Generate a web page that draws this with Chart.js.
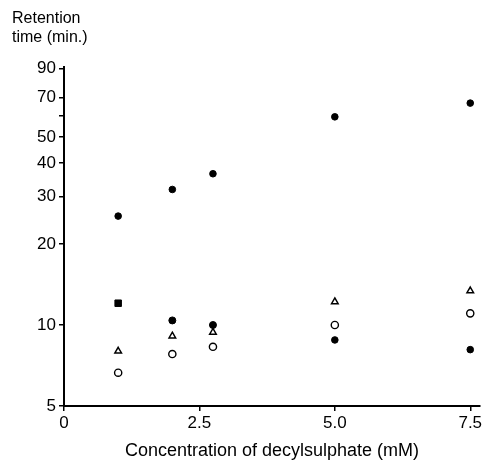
<!DOCTYPE html>
<html>
<head>
<meta charset="utf-8">
<script src="https://cdn.jsdelivr.net/npm/chart.js@4.4.1/dist/chart.umd.min.js"></script>
<style>
  html, body { margin: 0; padding: 0; background: #fff; }
</style>
</head>
<body>
<canvas id="retChart" width="493" height="471"></canvas>
<script>
// concentrations (mM) and retention times (min.)
const concentrations = [1, 2, 2.75, 5, 7.5];
const filledCircles = [25.4, 31.9, 36.5, 59.4, 66.8];
const filledSquares = [12.05, 10.4, 10.0, 8.8, 8.1];
const openTriangles = [8.0, 9.1, 9.4, 12.2, 13.4];
const openCircles = [6.65, 7.8, 8.3, 10.0, 11.05];

const xTicks = [0, 2.5, 5, 7.5];
const xTickLabels = ['0', '2.5', '5.0', '7.5'];
const yTicks = [5, 10, 20, 30, 40, 50, 60, 70, 90];
const yTickLabels = ['5', '10', '20', '30', '40', '50', '', '70', '90'];

const FONT = 'Liberation Sans';

function toPoints(values) {
    return concentrations.map(function (c, i) { return { x: c, y: values[i] }; });
}

// y axis title sits horizontally above the axis
const yTitlePlugin = {
    id: 'yTitle',
    afterDraw: function (chart) {
        const c = chart.ctx;
        c.save();
        c.fillStyle = '#000';
        c.font = '16px "' + FONT + '"';
        c.textBaseline = 'alphabetic';
        c.fillText('Retention', 12, 23);
        c.fillText('time (min.)', 12, 42);
        c.restore();
    }
};

const ctx = document.getElementById('retChart');
const chart = new Chart(ctx, {
    type: 'scatter',
    data: {
        datasets: [{
            label: 'filled circles',
            data: toPoints(filledCircles),
            pointStyle: 'circle',
            pointRadius: 3.3,
            backgroundColor: '#000',
            borderColor: '#000',
            borderWidth: 1
        }, {
            label: 'filled squares',
            data: toPoints(filledSquares),
            pointStyle: ['rect', 'circle', 'circle', 'circle', 'circle'],
            pointRadius: [4.6, 3.5, 3.5, 3.3, 3.3],
            backgroundColor: '#000',
            borderColor: '#000',
            borderWidth: 1
        }, {
            label: 'open triangles',
            data: toPoints(openTriangles),
            pointStyle: 'triangle',
            pointRadius: 3.8,
            backgroundColor: '#fff',
            borderColor: '#000',
            borderWidth: 1.5
        }, {
            label: 'open circles',
            data: toPoints(openCircles),
            pointStyle: 'circle',
            pointRadius: 3.6,
            backgroundColor: '#fff',
            borderColor: '#000',
            borderWidth: 1.4
        }]
    },
    options: {
        responsive: false,
        animation: false,
        layout: { padding: { top: 67, right: 13, bottom: 0, left: 0 } },
        plugins: {
            legend: { display: false },
            tooltip: { enabled: false }
        },
        scales: {
            x: {
                type: 'linear',
                min: 0,
                max: 7.68,
                afterBuildTicks: function (scale) {
                    scale.ticks = xTicks.map(function (v) { return { value: v }; });
                },
                afterFit: function (scale) { scale.height = 65; },
                border: { display: true, color: '#000', width: 2 },
                grid: { drawOnChartArea: false, drawTicks: true, tickLength: 5, color: '#000', lineWidth: 1.5 },
                ticks: {
                    color: '#000',
                    padding: 2,
                    font: { family: FONT, size: 17 },
                    callback: function (v) {
                        const i = xTicks.indexOf(v);
                        return i >= 0 ? xTickLabels[i] : '';
                    }
                },
                title: {
                    display: true,
                    text: 'Concentration of decylsulphate (mM)',
                    color: '#000',
                    font: { family: FONT, size: 18 },
                    padding: { top: 0, bottom: 9 }
                }
            },
            y: {
                type: 'logarithmic',
                min: 5,
                max: 91,
                afterBuildTicks: function (scale) {
                    scale.ticks = yTicks.map(function (v) { return { value: v }; });
                },
                afterFit: function (scale) { scale.width = 64; },
                border: { display: true, color: '#000', width: 2 },
                grid: { drawOnChartArea: false, drawTicks: true, tickLength: 5, color: '#000', lineWidth: 1.5 },
                ticks: {
                    color: '#000',
                    padding: 3,
                    autoSkip: false,
                    font: { family: FONT, size: 17 },
                    callback: function (v) {
                        const i = yTicks.indexOf(v);
                        return i >= 0 ? yTickLabels[i] : '';
                    }
                }
            }
        }
    },
    plugins: [yTitlePlugin]
});
</script>
</body>
</html>
